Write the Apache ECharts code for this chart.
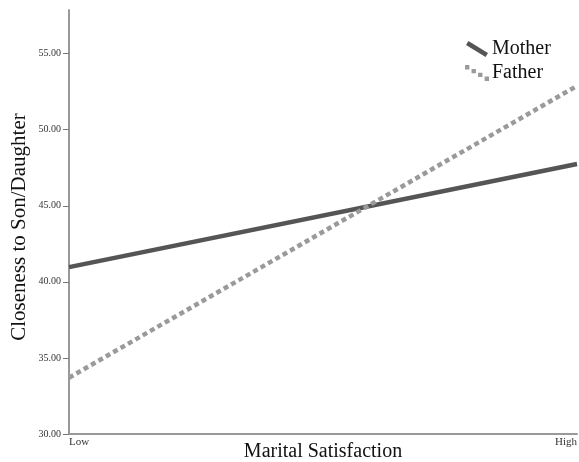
<!DOCTYPE html>
<html><head><meta charset="utf-8">
<script src="https://cdn.jsdelivr.net/npm/echarts@6/dist/echarts.min.js"></script>
<style>html,body{margin:0;padding:0;background:#fff}#c{width:579px;height:462px}</style>
</head><body><div id="c"></div>
<script>
const categories = ['Low', 'High'];
const motherValues = [40.97, 47.75];
const fatherValues = [33.7, 52.88];
const yTicks = [30, 35, 40, 45, 50, 55];

const chart = echarts.init(document.getElementById('c'), null, {renderer: 'canvas'});
const serif = '"Liberation Serif", "DejaVu Serif", serif';
const dotIcon = 'path://M0,0h4v4h-4z M6,3.5h4v4h-4z M12,7h4v4h-4z M18,10.5h4v4h-4z';
const solidIcon = 'path://M1.3,0L22.3,13L19.7,17.2L-1.3,4.2Z';
chart.setOption({
  animation: false,
  grid: {left: 69, right: 2, top: 10, bottom: 28, outerBoundsMode: 'none', containLabel: false},
  legend: {
    left: 460, top: 34, orient: 'vertical', itemGap: 4,
    itemWidth: 24, itemHeight: 16,
    textStyle: {fontFamily: serif, fontSize: 20, color: '#111', padding: [0,0,0,-2]},
    data: [
      {name: 'Mother', icon: solidIcon, itemStyle: {color: '#555'}},
      {name: 'Father', icon: dotIcon, itemStyle: {color: '#9a9a9a'}}
    ]
  },
  xAxis: {
    type: 'category', data: categories, boundaryGap: false,
    name: 'Marital Satisfaction', nameLocation: 'middle', nameGap: 8, nameMoveOverlap: false,
    nameTextStyle: {fontFamily: serif, fontSize: 20, color: '#111'},
    axisLine: {lineStyle: {color: '#999', width: 2}},
    axisTick: {show: false},
    axisLabel: {fontFamily: serif, fontSize: 11, color: '#333', margin: 3, alignMinLabel: 'left', alignMaxLabel: 'right'}
  },
  yAxis: {
    type: 'value', min: 30, max: 57.87,
    name: 'Closeness to Son/Daughter', nameLocation: 'middle', nameGap: 39, nameMoveOverlap: false,
    nameTextStyle: {fontFamily: serif, fontSize: 21, color: '#111', padding: [0, 10, 0, 0]},
    splitLine: {show: false},
    axisLine: {show: true, lineStyle: {color: '#999', width: 2}},
    axisTick: {show: true, length: 6, lineStyle: {color: '#777'}, customValues: yTicks},
    axisLabel: {fontFamily: serif, fontSize: 10, color: '#333', margin: 8,
      customValues: yTicks, formatter: v => v.toFixed(2)}
  },
  series: [
    {name: 'Mother', type: 'line', data: motherValues, symbol: 'none',
      lineStyle: {color: '#555', width: 4.5}},
    {name: 'Father', type: 'line', data: fatherValues, symbol: 'none',
      lineStyle: {color: '#9a9a9a', width: 4.5, type: [5, 3.5], cap: 'butt'}}
  ]
});
</script></body></html>
